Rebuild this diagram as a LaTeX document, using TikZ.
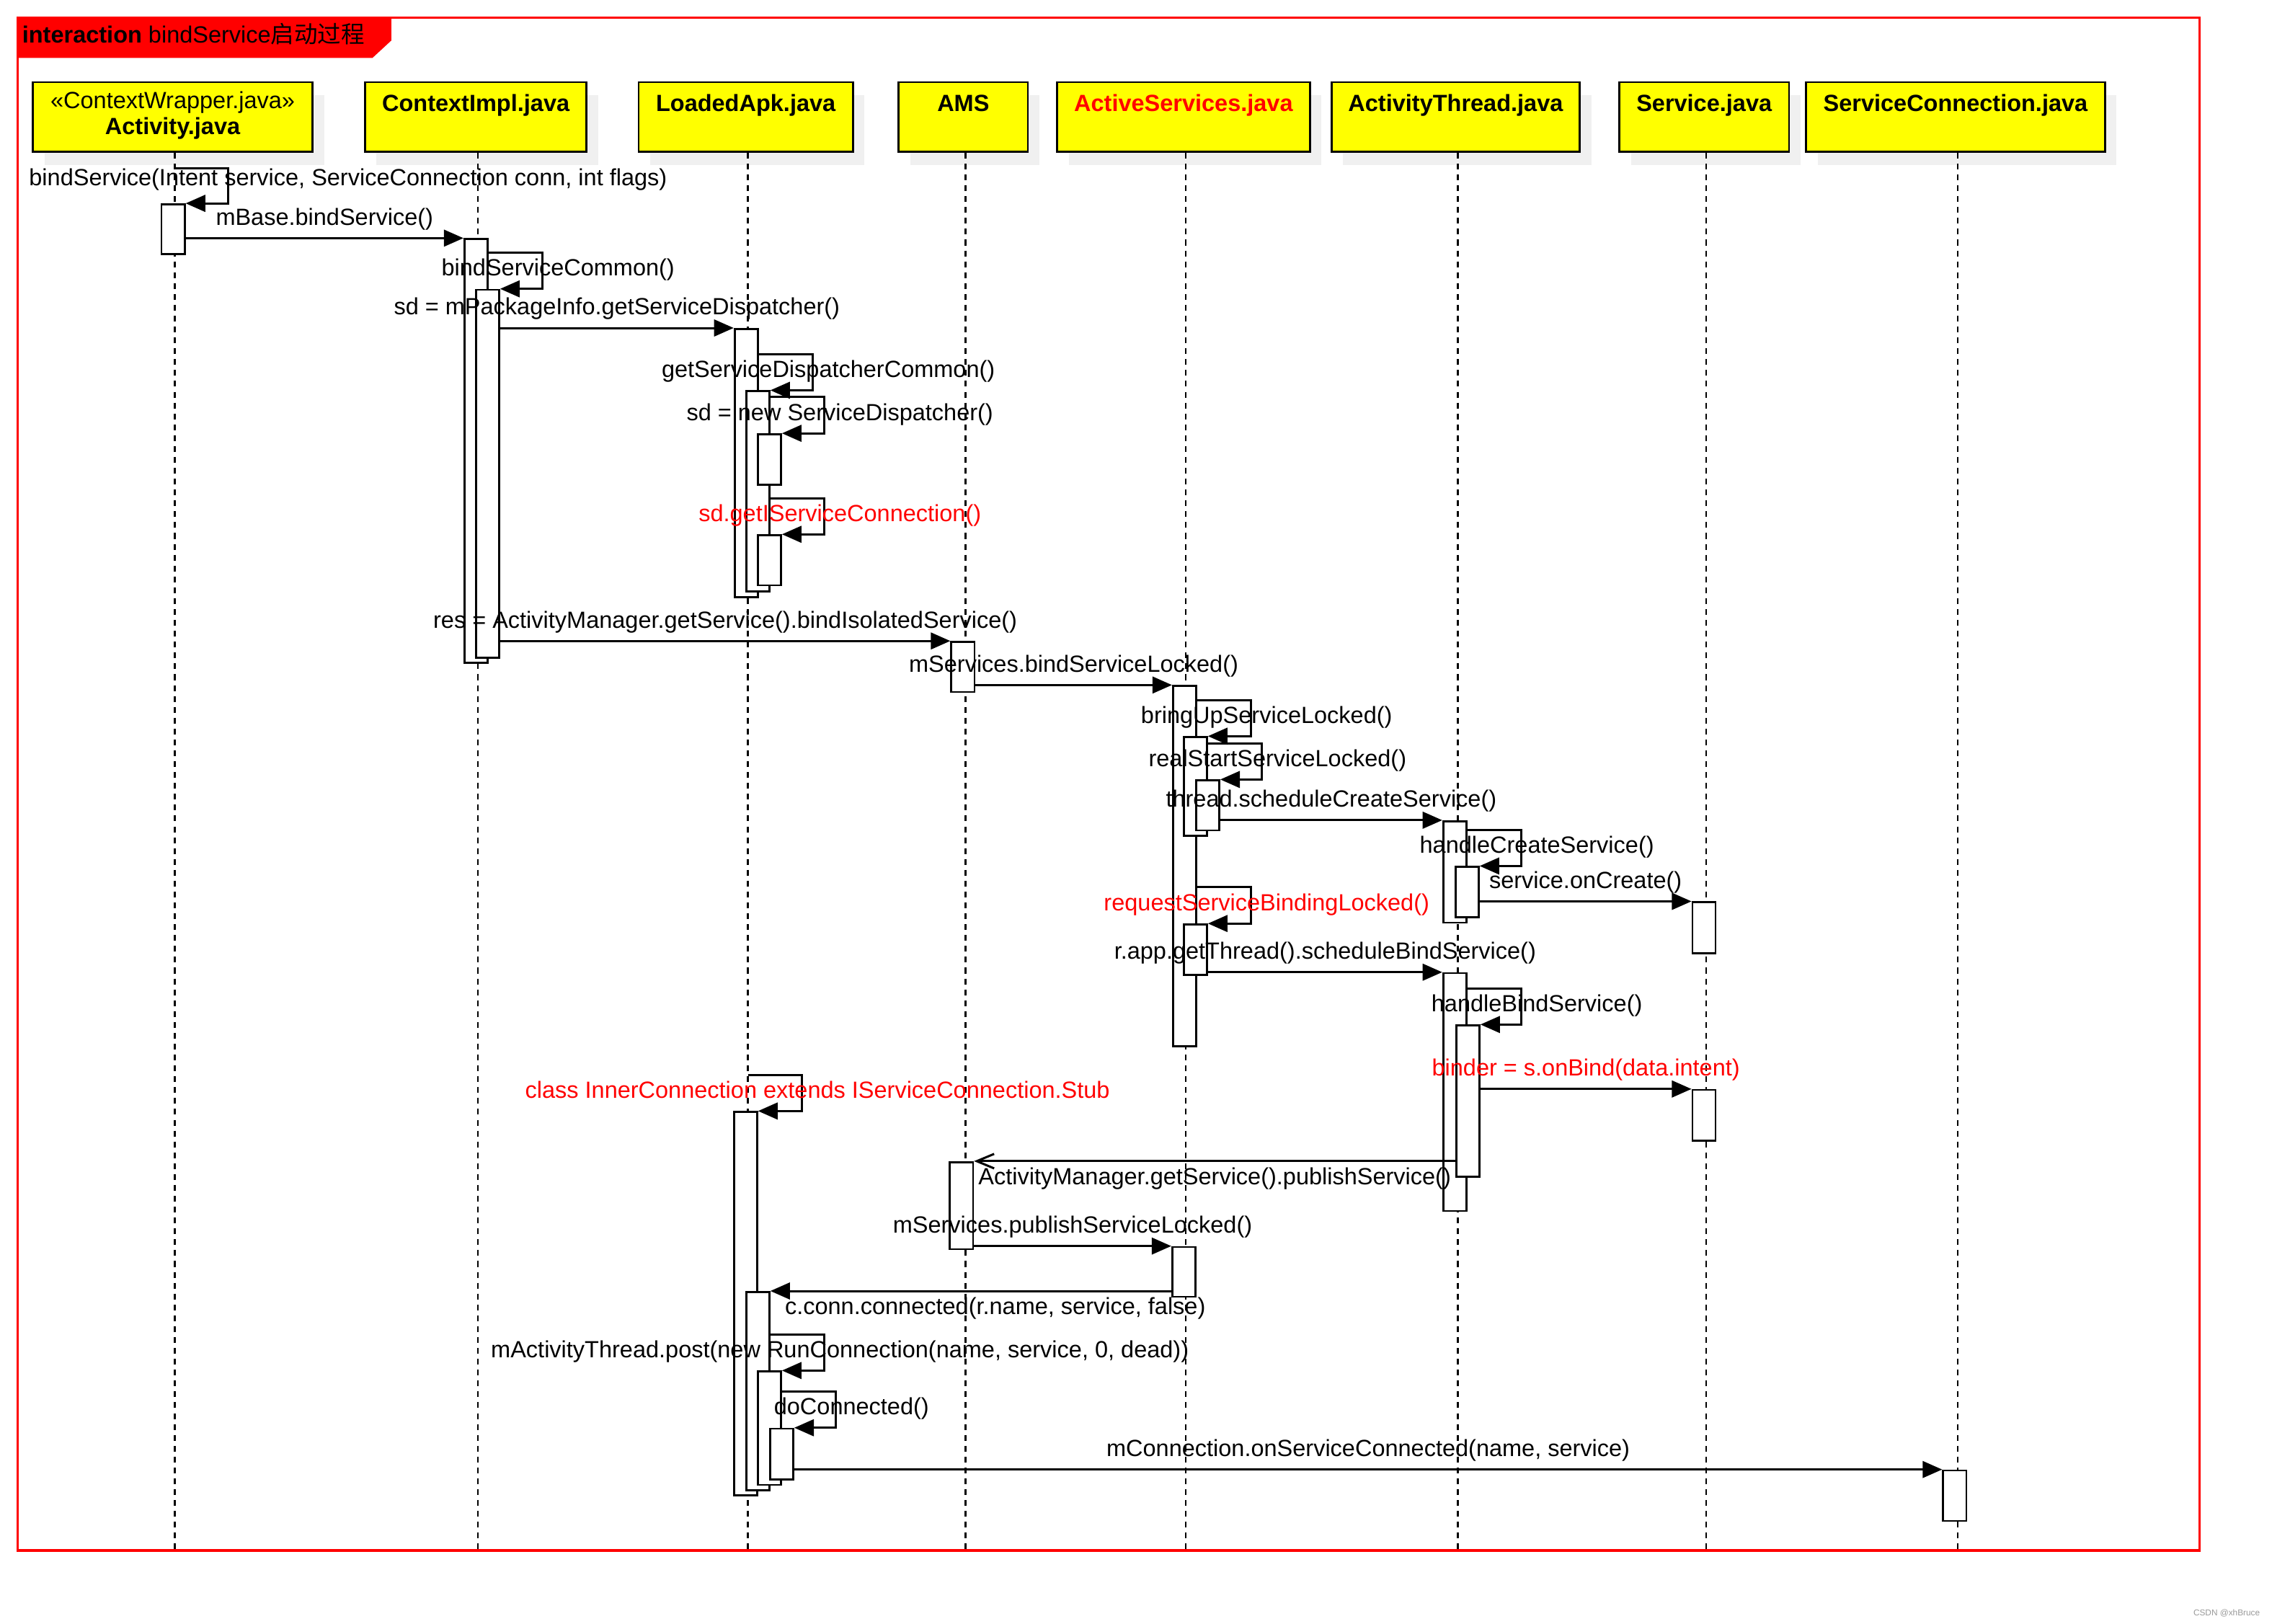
\documentclass[tikz,border=0pt]{standalone}
\usepackage{fontspec}
\setmainfont{Liberation Sans}
\newfontfamily\cjkfont{Noto Sans CJK SC}
\usepackage{tikz}
\usetikzlibrary{arrows.meta,positioning,calc,fit,shadows}
\usepackage{xcolor}
\definecolor{headyellow}{HTML}{FFFF00}
\definecolor{framered}{HTML}{FF0000}
% activation bar: name, left x, top y, bottom y
\newcommand{\actbar}[4]{\node[bar, fit={(#2,#3) (#2+16,#4)}] (#1) {};}
% self call: [colour], name, start, new bar, text
\newcommand{\selfcall}[5][black]{%
  \path (#4.north east) ++(0,-25) coordinate (#2-top);
  \draw[msg] (#3 |- #2-top) -- ++(37,0) |- (#4.north east);
  \node[lbl, text=#1] (#2) at ($(#3 |- #2-top)+(48,16)$) {#5};
}

\begin{document}
\begin{tikzpicture}[
    x=0.02cm, y=-0.02cm,
    every node/.style={font=\fontsize{9.2}{10.2}\selectfont},
    head/.style={draw=black, line width=0.8pt, fill=headyellow, anchor=north west,
      minimum height=0.96cm, inner xsep=0pt, inner ysep=0pt,
      font=\fontsize{9.2}{10.2}\selectfont\bfseries,
      text height=0.406cm, text depth=0.554cm,
      drop shadow={shadow xshift=0.16cm, shadow yshift=-0.18cm, fill=black!6, opacity=1}},
    life/.style={line width=0.7pt, dash pattern=on 0.08cm off 0.07cm},
    bar/.style={draw=black, line width=0.75pt, fill=white, inner sep=0pt},
    msg/.style={line width=0.85pt, -{Triangle[length=0.27cm, width=0.23cm]}},
    ret/.style={line width=0.85pt, -{Straight Barb[length=0.24cm, width=0.2cm]}},
    lbl/.style={inner sep=1pt, anchor=base},
  ]
  \useasboundingbox (0,0) rectangle (1568,1120.3);

  % Frame and title
  \node[draw=framered, line width=0.9pt, inner sep=0pt, fit={(12,12) (1518,1070)}] (frame) {};
  \fill[framered] (12,12) -- (270,12) -- (270,28) -- (257,40) -- (12,40) -- cycle;
  \node[anchor=base west, inner sep=0pt] (title) at (15,29.5)
    {\textbf{interaction} bindService{\cjkfont 启动过程}};

  % Participants
  \node[head, minimum width=3.86cm, text height=0.72cm, text depth=0.24cm] (act) at (22,56)
    {\begin{tabular}[b]{@{}c@{}}\mdseries «ContextWrapper.java»\\Activity.java\end{tabular}};
  \node[head, minimum width=3.06cm] (ctx) at (251.2,56) {ContextImpl.java};
  \node[head, minimum width=2.96cm] (apk) at (440,56) {LoadedApk.java};
  \node[head, minimum width=1.784cm] (ams) at (619.5,56) {AMS};
  \node[head, minimum width=3.492cm, text=red] (asv) at (728.8,56) {ActiveServices.java};
  \node[head, minimum width=3.424cm] (ath) at (918.3,56) {ActivityThread.java};
  \node[head, minimum width=2.344cm] (svc) at (1116.8,56) {Service.java};
  \node[head, minimum width=4.124cm] (conn) at (1245.8,56) {ServiceConnection.java};

  % Lifelines
  \foreach \p in {act,ctx,apk,ams,asv,ath,svc,conn} {
    \coordinate (\p-life) at ($(\p.south)+(1.5,0)$);
    \draw[life] (\p-life) -- (\p-life |- frame.south);
  }

  % Activation bars
  \actbar{a1}{111.5}{141}{175.5}
  \actbar{c1}{320.5}{165}{457.5}
  \actbar{c2}{328.5}{200}{454}
  \actbar{l1}{507}{227}{412}
  \actbar{l2}{515}{270}{408}
  \actbar{l3}{523}{299.7}{334.5}
  \actbar{l4}{523}{369.4}{404}
  \actbar{m1}{656.5}{443}{477.6}
  \actbar{s1}{809.5}{473.4}{722}
  \actbar{s2}{817}{508.7}{576.7}
  \actbar{s3}{825.5}{538.6}{573}
  \actbar{t1}{996}{566.7}{636.8}
  \actbar{t2}{1004.5}{598.3}{632.9}
  \actbar{v1}{1168}{622.7}{658}
  \actbar{s4}{817}{638}{672.7}
  \actbar{t3}{996}{671.6}{835.7}
  \actbar{t4}{1005}{707.7}{812}
  \actbar{v2}{1168}{752.2}{787.3}
  \actbar{l5}{506.5}{767.4}{1032}
  \actbar{m2}{655.5}{802}{862}
  \actbar{s5}{809}{860.6}{895}
  \actbar{l6}{515}{891.6}{1028.6}
  \actbar{l7}{523}{946.5}{1024.8}
  \actbar{l8}{531.5}{986}{1021}
  \actbar{n1}{1341}{1014.8}{1049.6}

  % Self calls
  \path (a1.north east) ++(0,-24) coordinate (m-bind-top);
  \draw[msg] (act-life |- m-bind-top) -- ++(37,0) |- (a1.north east);
  \node[lbl, anchor=base west] (m-bind) at (18,128)
    {bindService(Intent service, ServiceConnection conn, int flags)};
  \selfcall{m-common}{c1.east}{c2}{bindServiceCommon()}
  \selfcall{m-sdcommon}{l1.east}{l2}{getServiceDispatcherCommon()}
  \selfcall{m-sdnew}{l2.east}{l3}{sd = new ServiceDispatcher()}
  \selfcall[red]{m-getisc}{l2.east}{l4}{sd.getIServiceConnection()}
  \selfcall{m-bringup}{s1.east}{s2}{bringUpServiceLocked()}
  \selfcall{m-realstart}{s2.east}{s3}{realStartServiceLocked()}
  \selfcall{m-hcreate}{t1.east}{t2}{handleCreateService()}
  \selfcall[red]{m-reqbind}{s1.east}{s4}{requestServiceBindingLocked()}
  \selfcall{m-hbind}{t3.east}{t4}{handleBindService()}
  \selfcall[red]{m-inner}{apk-life}{l5}{class InnerConnection extends IServiceConnection.Stub}
  \selfcall{m-post}{l6.east}{l7}{mActivityThread.post(new RunConnection(name, service, 0, dead))}
  \selfcall{m-doconn}{l7.east}{l8}{doConnected()}

  % Calls
  \draw[msg] (a1.east |- c1.north) -- (c1.north west)
    node[lbl, midway, yshift=0.18cm] (m-base) {mBase.bindService()};
  \draw[msg] (c2.east |- l1.north) -- (l1.north west)
    node[lbl, midway, yshift=0.18cm] (m-getsd) {sd = mPackageInfo.getServiceDispatcher()};
  \draw[msg] (c2.east |- m1.north) -- (m1.north west)
    node[lbl, midway, yshift=0.18cm] (m-iso) {res = ActivityManager.getService().bindIsolatedService()};
  \draw[msg] (m1.east |- s1.north) -- (s1.north west)
    node[lbl, midway, yshift=0.18cm] (m-bsl) {mServices.bindServiceLocked()};
  \draw[msg] (s3.east |- t1.north) -- (t1.north west)
    node[lbl, midway, yshift=0.18cm] (m-screate) {thread.scheduleCreateService()};
  \draw[msg] (t2.east |- v1.north) -- (v1.north west)
    node[lbl, midway, yshift=0.18cm] (m-oncreate) {service.onCreate()};
  \draw[msg] (s4.east |- t3.north) -- (t3.north west)
    node[lbl, midway, yshift=0.18cm] (m-sbind) {r.app.getThread().scheduleBindService()};
  \draw[msg] (t4.east |- v2.north) -- (v2.north west)
    node[lbl, midway, yshift=0.18cm, text=red] (m-onbind) {binder = s.onBind(data.intent)};
  \draw[ret] (t4.west |- m2.north) -- (m2.north east);
  \node[lbl, anchor=base west] (m-publish) at ($(m2.north east)+(1,16)$)
    {ActivityManager.getService().publishService()};
  \draw[msg] (m2.east |- s5.north) -- (s5.north west)
    node[lbl, midway, yshift=0.18cm] (m-psl) {mServices.publishServiceLocked()};
  \draw[msg] (s5.west |- l6.north) -- (l6.north east);
  \node[lbl, anchor=base west] (m-connected) at ($(l6.north east)+(8,16)$)
    {c.conn.connected(r.name, service, false)};
  \draw[msg] (l8.east |- n1.north) -- (n1.north west)
    node[lbl, midway, yshift=0.18cm] (m-onsc) {mConnection.onServiceConnected(name, service)};

  \node[anchor=base east, inner sep=0pt, text=black!40, font=\fontsize{3.35}{4}\selectfont]
    (mark) at (1560,1115) {CSDN @xhBruce};
\end{tikzpicture}
\end{document}
